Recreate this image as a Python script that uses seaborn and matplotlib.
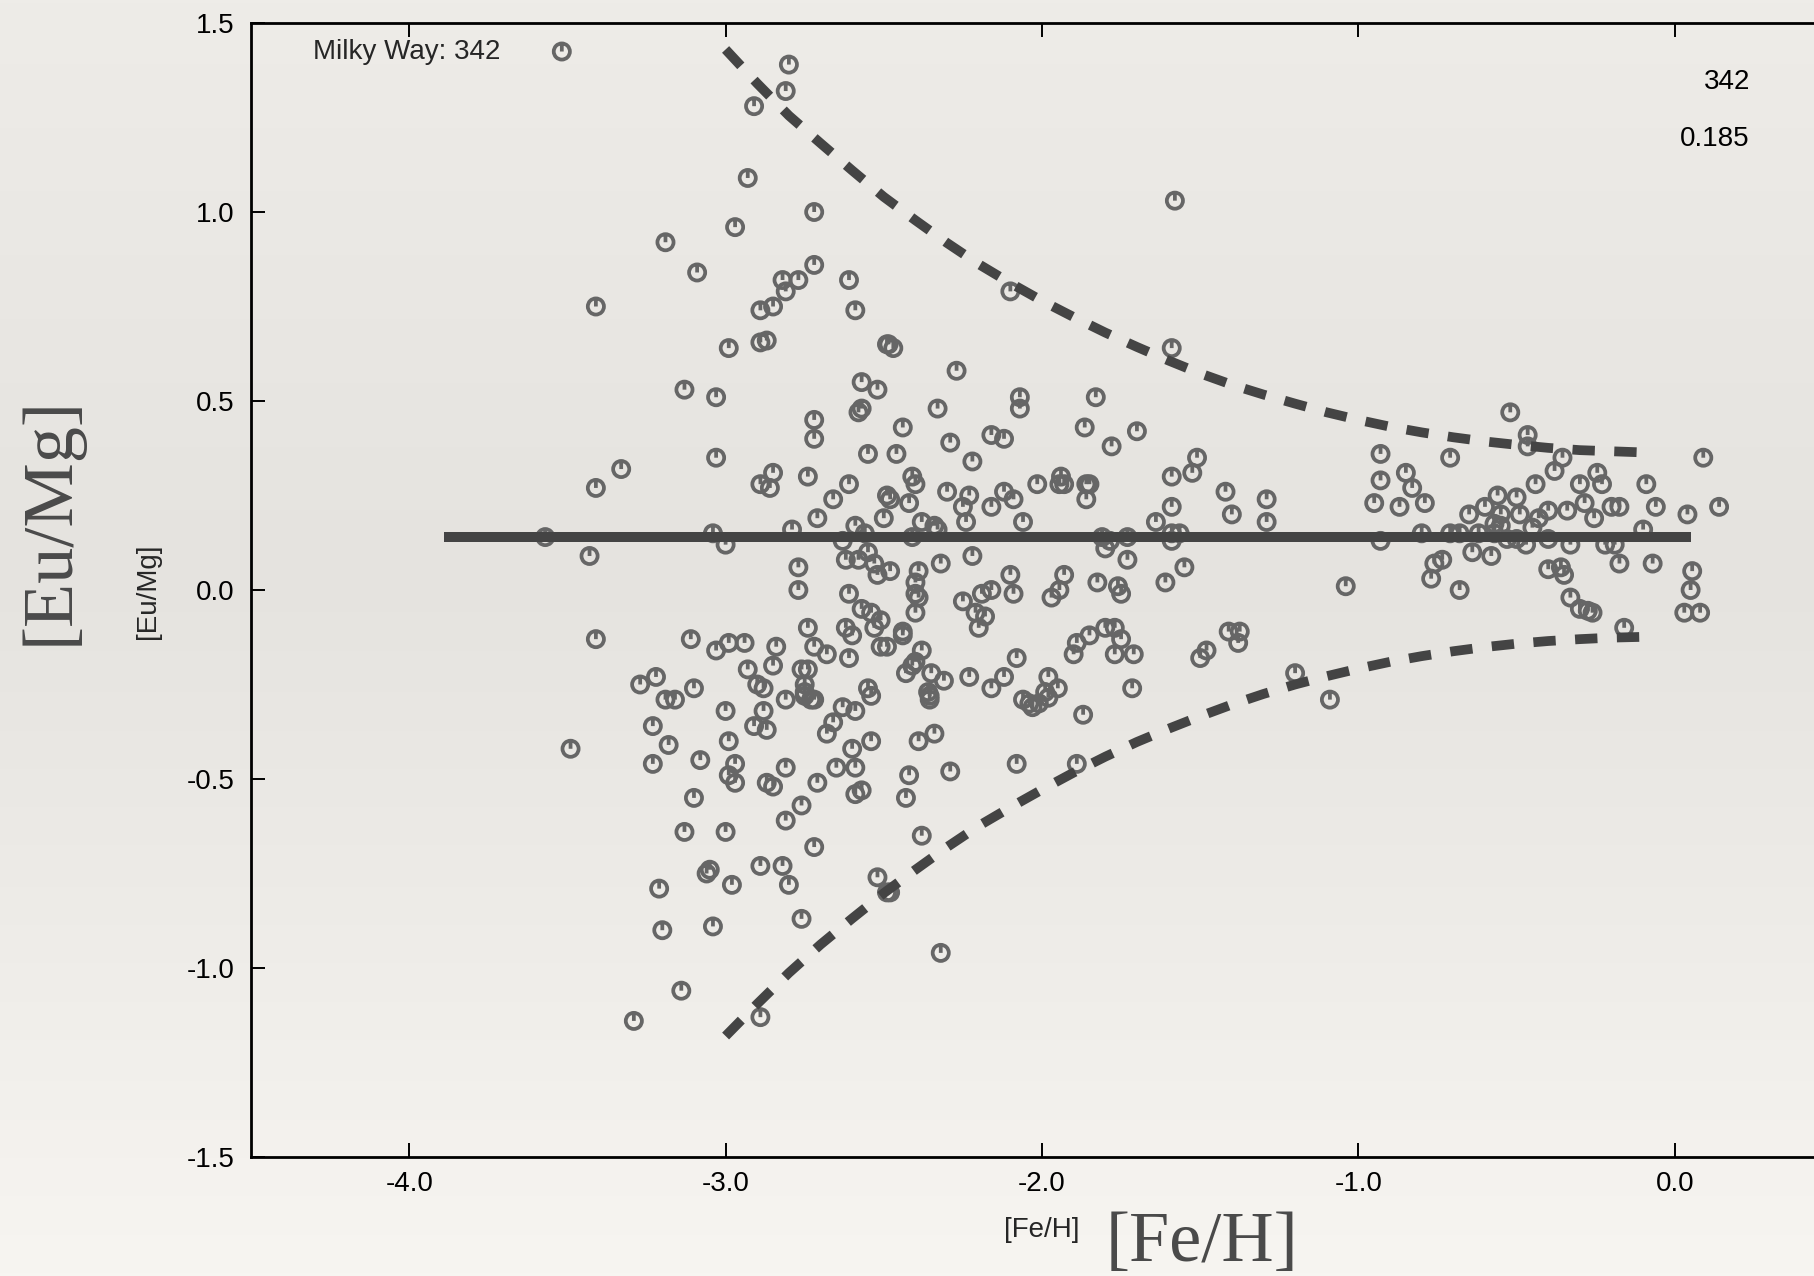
import numpy as np
import pandas as pd
import matplotlib
matplotlib.use("Agg")
import matplotlib.pyplot as plt
from matplotlib.path import Path
from matplotlib.ticker import FixedLocator, FormatStrFormatter
import seaborn as sns

# ---------------- data ----------------
fe_h = [
    -3.57, -3.49, -3.41, -3.41, -3.43, -3.41, -3.33, -3.29,
    -3.27, -3.22, -3.23, -3.23, -3.21, -3.20, -3.19, -3.19,
    -3.16, -3.18, -3.14, -3.13, -3.13, -3.11, -3.10, -3.10,
    -3.09, -3.08, -3.06, -3.05, -3.04, -3.03, -3.03, -3.04,
    -3.03, -3.00, -3.00, -3.00, -2.99, -2.99, -2.97, -2.97,
    -2.98, -2.99, -2.97, -2.99, -2.94, -2.93, -2.91, -2.93,
    -2.91, -2.90, -2.89, -2.89, -2.89, -2.87, -2.89, -2.86,
    -2.89, -2.88, -2.88, -2.87, -2.87, -2.85, -2.85, -2.85,
    -2.85, -2.84, -2.82, -2.82, -2.77, -2.81, -2.80, -2.81,
    -2.81, -2.81, -2.81, -2.80, -2.79, -2.77, -2.77, -2.76,
    -2.76, -2.76, -2.74, -2.75, -2.75, -2.75, -2.74, -2.74,
    -2.73, -2.72, -2.72, -2.72, -2.72, -2.72, -2.72, -2.72,
    -2.71, -2.71, -2.68, -2.68, -2.66, -2.66, -2.65, -2.63,
    -2.62, -2.61, -2.61, -2.63, -2.62, -2.61, -2.61, -2.60,
    -2.60, -2.59, -2.59, -2.59, -2.59, -2.59, -2.58, -2.58,
    -2.57, -2.57, -2.57, -2.57, -2.56, -2.55, -2.54, -2.55,
    -2.55, -2.54, -2.54, -2.53, -2.53, -2.52, -2.52, -2.52,
    -2.51, -2.49, -2.51, -2.50, -2.49, -2.485, -2.47, -2.49,
    -2.48, -2.49, -2.48, -2.48, -2.46, -2.44, -2.44, -2.44,
    -2.43, -2.43, -2.42, -2.42, -2.41, -2.40, -2.41, -2.41,
    -2.40, -2.40, -2.40, -2.40, -2.39, -2.39, -2.39, -2.38,
    -2.38, -2.38, -2.36, -2.355, -2.355, -2.35, -2.34, -2.34,
    -2.33, -2.33, -2.32, -2.32, -2.31, -2.30, -2.29, -2.29,
    -2.27, -2.25, -2.25, -2.24, -2.23, -2.23, -2.22, -2.22,
    -2.21, -2.20, -2.19, -2.18, -2.16, -2.16, -2.16, -2.16,
    -2.12, -2.12, -2.12, -2.10, -2.10, -2.09, -2.09, -2.08,
    -2.08, -2.07, -2.07, -2.06, -2.06, -2.04, -2.03, -2.01,
    -2.015, -1.99, -1.98, -1.98, -1.97, -1.945, -1.94, -1.945,
    -1.93, -1.93, -1.95, -1.90, -1.89, -1.89, -1.87, -1.865,
    -1.86, -1.85, -1.86, -1.85, -1.83, -1.825, -1.81, -1.80,
    -1.77, -1.80, -1.785, -1.78, -1.77, -1.76, -1.75, -1.75,
    -1.73, -1.73, -1.71, -1.715, -1.70, -1.64, -1.61, -1.59,
    -1.59, -1.59, -1.59, -1.58, -1.59, -1.565, -1.55, -1.525,
    -1.51, -1.50, -1.48, -1.42, -1.40, -1.41, -1.375, -1.38,
    -1.29, -1.29, -1.20, -1.09, -1.04, -0.95, -0.93, -0.93,
    -0.93, -0.87, -0.85, -0.83, -0.80, -0.79, -0.77, -0.76,
    -0.735, -0.71, -0.71, -0.68, -0.68, -0.65, -0.64, -0.62,
    -0.60, -0.58, -0.57, -0.55, -0.57, -0.55, -0.56, -0.53,
    -0.50, -0.52, -0.50, -0.49, -0.47, -0.465, -0.465, -0.45,
    -0.44, -0.43, -0.40, -0.40, -0.40, -0.38, -0.36, -0.35,
    -0.355, -0.34, -0.33, -0.33, -0.30, -0.275, -0.30, -0.285,
    -0.26, -0.255, -0.245, -0.23, -0.22, -0.19, -0.20, -0.175,
    -0.175, -0.16, -0.10, -0.09, -0.07, -0.06, 0.03, 0.04,
    0.05, 0.055, 0.08, 0.09, 0.14,
]
eu_mg = [
    0.14, -0.42, 0.75, 0.27, 0.09, -0.13, 0.32, -1.14,
    -0.25, -0.23, -0.36, -0.46, -0.79, -0.90, 0.92, -0.29,
    -0.29, -0.41, -1.06, 0.53, -0.64, -0.13, -0.26, -0.55,
    0.84, -0.45, -0.75, -0.74, -0.89, 0.51, 0.35, 0.15,
    -0.16, -0.64, 0.12, -0.32, -0.40, -0.49, -0.46, -0.51,
    -0.78, 0.64, 0.96, -0.14, -0.14, 1.09, 1.28, -0.21,
    -0.36, -0.25, -0.73, 0.74, 0.655, 0.66, 0.28, 0.27,
    -1.13, -0.26, -0.32, -0.37, -0.51, -0.52, 0.31, 0.75,
    -0.20, -0.15, -0.73, 0.82, 0.82, 1.32, 1.39, 0.79,
    -0.29, -0.47, -0.61, -0.78, 0.16, 0.00, 0.06, -0.87,
    -0.57, -0.21, -0.21, -0.25, -0.27, -0.28, 0.30, -0.10,
    -0.29, -0.29, 0.40, 0.45, 1.00, 0.86, -0.68, -0.15,
    0.19, -0.51, -0.38, -0.17, -0.35, 0.24, -0.47, -0.31,
    -0.10, 0.28, 0.82, 0.13, 0.08, -0.01, -0.18, -0.42,
    -0.12, -0.32, -0.54, 0.74, 0.17, -0.47, 0.08, 0.47,
    0.48, -0.05, 0.55, -0.53, 0.15, -0.26, -0.28, 0.10,
    0.36, -0.06, -0.40, 0.07, -0.10, 0.04, 0.53, -0.76,
    -0.15, -0.15, -0.08, 0.19, 0.65, 0.65, 0.64, 0.25,
    0.24, -0.80, -0.80, 0.05, 0.36, 0.43, -0.11, -0.12,
    -0.22, -0.55, -0.49, 0.23, 0.30, 0.28, 0.14, -0.20,
    -0.19, 0.02, -0.06, -0.01, -0.02, 0.05, -0.40, -0.65,
    -0.16, 0.18, -0.27, -0.28, -0.29, -0.22, -0.38, 0.17,
    0.16, 0.48, -0.96, 0.07, -0.24, 0.26, -0.48, 0.39,
    0.58, 0.22, -0.03, 0.18, 0.25, -0.23, 0.09, 0.34,
    -0.06, -0.10, -0.01, -0.07, -0.26, 0.22, 0.41, 0.00,
    0.40, 0.26, -0.23, 0.79, 0.04, 0.24, -0.01, -0.46,
    -0.18, 0.48, 0.51, 0.18, -0.29, -0.30, -0.31, -0.30,
    0.28, -0.27, -0.285, -0.23, -0.02, 0.28, 0.30, 0.00,
    0.04, 0.28, -0.26, -0.17, -0.46, -0.14, -0.33, 0.43,
    0.28, 0.28, 0.24, -0.12, 0.51, 0.02, 0.14, -0.10,
    -0.10, 0.11, 0.13, 0.38, -0.17, 0.01, -0.13, -0.01,
    0.14, 0.08, -0.17, -0.26, 0.42, 0.18, 0.02, 0.15,
    0.22, 0.30, 0.64, 1.03, 0.13, 0.15, 0.06, 0.31,
    0.35, -0.18, -0.16, 0.26, 0.20, -0.11, -0.11, -0.14,
    0.24, 0.18, -0.22, -0.29, 0.01, 0.23, 0.36, 0.29,
    0.13, 0.22, 0.31, 0.27, 0.15, 0.23, 0.03, 0.07,
    0.08, 0.35, 0.15, 0.15, 0.00, 0.20, 0.10, 0.15,
    0.22, 0.09, 0.15, 0.20, 0.175, 0.17, 0.25, 0.135,
    0.135, 0.47, 0.245, 0.20, 0.12, 0.41, 0.38, 0.165,
    0.28, 0.19, 0.21, 0.135, 0.055, 0.315, 0.06, 0.04,
    0.35, 0.21, 0.12, -0.02, -0.05, -0.055, 0.28, 0.23,
    -0.06, 0.19, 0.31, 0.28, 0.12, 0.12, 0.22, 0.22,
    0.07, -0.10, 0.16, 0.28, 0.07, 0.22, -0.06, 0.20,
    0.00, 0.05, -0.06, 0.35, 0.22,
]

mean_x = [-3.89, 0.05]
mean_y = [0.141, 0.141]

upper_x = [-3.0, -2.9, -2.8, -2.7, -2.6, -2.5, -2.4, -2.3, -2.2, -2.1, -2.0,
           -1.9, -1.8, -1.7, -1.6, -1.5, -1.4, -1.3, -1.2, -1.1, -1.0,
           -0.9, -0.8, -0.7, -0.6, -0.5, -0.4, -0.3, -0.2, -0.1, -0.08]
upper_y = [1.43, 1.34, 1.255, 1.182, 1.110, 1.040, 0.978, 0.918, 0.862, 0.812, 0.765,
           0.722, 0.681, 0.643, 0.607, 0.573, 0.543, 0.517, 0.493, 0.470, 0.450,
           0.432, 0.417, 0.404, 0.393, 0.384, 0.376, 0.370, 0.367, 0.364, 0.363]
lower_x = upper_x
lower_y = [-1.18, -1.095, -1.013, -0.938, -0.869, -0.802, -0.740, -0.680, -0.624, -0.575, -0.528,
           -0.483, -0.441, -0.402, -0.367, -0.334, -0.303, -0.275, -0.250, -0.228, -0.208,
           -0.190, -0.175, -0.162, -0.151, -0.142, -0.135, -0.130, -0.126, -0.124, -0.124]

x_ticks = [-4.0, -3.0, -2.0, -1.0, 0.0]
y_ticks = [-1.5, -1.0, -0.5, 0.0, 0.5, 1.0, 1.5]
legend_label = "Milky Way: 342"
stat_n = "342"
stat_sigma = "0.185"

# ---------------- style ----------------
sns.set_style("ticks")
plt.rcParams["font.family"] = ["Liberation Sans", "DejaVu Sans"]
plt.rcParams["axes.unicode_minus"] = False

W, H, DPI = 1814, 1276, 100
FS = 20
fig = plt.figure(figsize=(W / DPI, H / DPI), dpi=DPI)

# paper-like background gradient
bg = fig.add_axes([0, 0, 1, 1], zorder=0)
bg.axis("off")
stops = np.array([0.0, 0.45, 1.0])
cols = np.array([[238, 236, 232], [229, 227, 223], [247, 245, 241]]) / 255.0
rows = np.linspace(0, 1, 400)
grad = np.stack([np.interp(rows, stops, cols[:, k]) for k in range(3)], axis=1)
img = np.repeat(grad[:, None, :], 4, axis=1)
bg.imshow(img, aspect="auto", extent=[0, 1, 0, 1], origin="upper")
bg.set_xlim(0, 1)
bg.set_ylim(0, 1)

left, bottom = 251 / W, (H - 1157) / H
width, height = (1833 - 251) / W, (1157 - 23) / H
ax = fig.add_axes([left, bottom, width, height], zorder=1)
ax.patch.set_alpha(0)

# marker: circle with a short vertical stroke from centre to top
circle = Path.unit_circle()
stroke = Path([[0, 0], [0, 1]], [Path.MOVETO, Path.LINETO])
marker_path = Path.make_compound_path(circle, stroke)

df = pd.DataFrame({"FeH": fe_h, "EuMg": eu_mg})
sns.scatterplot(data=df, x="FeH", y="EuMg", ax=ax, marker=marker_path, s=135,
                facecolor="none", edgecolor="#666666", linewidth=2.7,
                label=legend_label, zorder=2)

line_col = "#444444"
sns.lineplot(x=mean_x, y=mean_y, ax=ax, color=line_col, linewidth=7.2,
             estimator=None, sort=False, zorder=3, solid_capstyle="butt", legend=False)
for xs, ys in [(upper_x, upper_y), (lower_x, lower_y)]:
    sns.lineplot(x=xs, y=ys, ax=ax, color=line_col, linewidth=7.0,
                 estimator=None, sort=False, zorder=3, legend=False,
                 linestyle=(0, (2.3, 2.0)), dash_capstyle="butt")

ax.set_xlim(-4.5, 0.5)
ax.set_ylim(-1.5, 1.5)
ax.xaxis.set_major_locator(FixedLocator(x_ticks))
ax.yaxis.set_major_locator(FixedLocator(y_ticks))
ax.xaxis.set_major_formatter(FormatStrFormatter("%.1f"))
ax.yaxis.set_major_formatter(FormatStrFormatter("%.1f"))
ax.tick_params(axis="x", direction="in", length=10, width=1.4, top=True, bottom=True,
               labelsize=FS, pad=10, colors="black")
ax.tick_params(axis="y", direction="in", length=10, width=1.4, left=True, right=True,
               labelsize=FS, pad=12, colors="black")
for sp in ax.spines.values():
    sp.set_linewidth(2.0)
    sp.set_color("black")
    sp.set_visible(True)

ax.set_xlabel("[Fe/H]", fontsize=FS)
ax.set_ylabel("[Eu/Mg]", fontsize=FS)
ax.xaxis.label.set_va("center")
ax.yaxis.label.set_va("center")
ax.xaxis.set_label_coords(0.5, -0.0648)
ax.yaxis.set_label_coords(-0.0651, 0.4993)

leg = ax.legend(loc="center left", bbox_to_anchor=(0.0394, 0.9746), frameon=False,
                markerfirst=False, fontsize=FS, borderpad=0, borderaxespad=0,
                handletextpad=1.2, handlelength=2.0)

ax.text(0.9475, 0.9415, stat_n, transform=ax.transAxes, ha="right", va="baseline",
        fontsize=FS, color="black")
ax.text(0.9475, 0.8915, stat_sigma, transform=ax.transAxes, ha="right", va="baseline",
        fontsize=FS, color="black")

# large serif overlay labels
serif = ["Liberation Serif", "DejaVu Serif"]
fig.text(1202 / W, 15 / H, "[Fe/H]", family=serif, fontsize=52, color="#4a4a4a",
         ha="center", va="baseline")
fig.text(50 / W, 1 - 520.8 / H, "[Eu/Mg]", family=serif, fontsize=52, color="#4a4a4a",
         ha="center", va="center", rotation=90)

fig.savefig("out.png", dpi=DPI)
